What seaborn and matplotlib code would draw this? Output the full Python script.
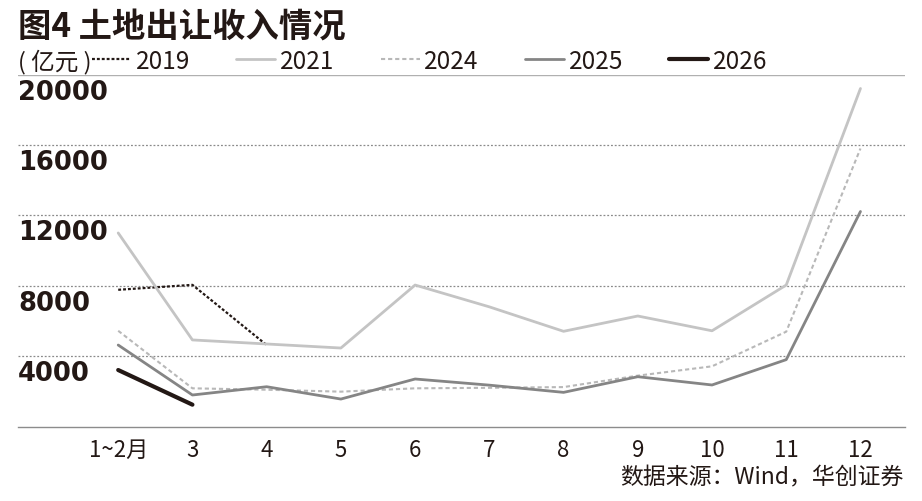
import pandas as pd
import seaborn as sns
import matplotlib.pyplot as plt
from matplotlib.lines import Line2D
from matplotlib.transforms import offset_copy

months = ['1~2月', '3', '4', '5', '6', '7', '8', '9', '10', '11', '12']
years = ['2019', '2021', '2024', '2025', '2026']
y2019 = [7770, 8050, 4630]
y2021 = [11000, 4920, 4690, 4460, 8040, 6800, 5410, 6280, 5440, 8040, 19210]
y2024 = [5440, 2170, 2090, 1980, 2170, 2200, 2240, 2890, 3420, 5390, 15800]
y2025 = [4630, 1790, 2260, 1560, 2700, 2350, 1940, 2830, 2360, 3800, 12220]
y2026 = [3210, 1240]
yticks = [4000, 8000, 12000, 16000, 20000]

rows = []
for yr, vals in zip(years, [y2019, y2021, y2024, y2025, y2026]):
    for i, v in enumerate(vals):
        rows.append({'year': yr, 'month': i, 'value': v})
df = pd.DataFrame(rows)

ink = '#231815'
palette = {'2019': ink, '2021': '#c4c4c4', '2024': '#b8b8b8', '2025': '#858585', '2026': ink}
sizes = {'2019': 1.6, '2021': 2.0, '2024': 1.5, '2025': 2.0, '2026': 3.0}
dashes = {'2019': (1.3, 0.9), '2021': '', '2024': (2.0, 1.4), '2025': '', '2026': ''}

sns.set_style('white')
plt.rcParams['font.family'] = ['Noto Sans CJK SC', 'DejaVu Sans']

fig = plt.figure(figsize=(9.22, 5.02), dpi=100)
ax = fig.add_axes([18 / 922, 1 - 427.5 / 502, 887 / 922, 351.9 / 502])

sns.lineplot(data=df, x='month', y='value', hue='year', size='year', style='year',
             palette=palette, sizes=sizes, dashes=dashes, legend=False, ax=ax, zorder=3)

ax.set_xlim(-1.35, 10.6)
ax.set_ylim(0, 20000)
for s in ['top', 'left', 'right']:
    ax.spines[s].set_visible(False)
ax.spines['bottom'].set_color('#8c8c8c')
ax.spines['bottom'].set_linewidth(1.0)

# grid: dotted, top line solid
for v in yticks[:-1]:
    ax.axhline(v, color='#8a8a8a', lw=0.9, ls=(0, (1.5, 1.5)), zorder=1)
ax.axhline(yticks[-1], color='#b0b0b0', lw=1.0, zorder=1)

ax.set_yticks([])
ax.set_ylabel('')
ax.set_xlabel('')
tr = offset_copy(ax.get_yaxis_transform(), fig=fig, y=-4, units='dots')
for v in yticks:
    ax.text(0, v, str(v), transform=tr, ha='left', va='top', fontsize=18.5,
            fontweight='bold', family='DejaVu Sans', color=ink)

ax.set_xticks(range(len(months)), months)
ax.tick_params(axis='x', length=0, pad=8, labelsize=16, colors=ink)

fig.text(18 / 922, 1 - 27 / 502, '图4 土地出让收入情况', fontsize=24, fontweight='bold',
         va='center', ha='left', color=ink)
fig.text(18 / 922, 1 - 62 / 502, '( 亿元 )', fontsize=17, va='center', ha='left', color=ink)

handles = [Line2D([], [], color=palette[y], lw=sizes[y],
                  ls='-' if dashes[y] == '' else (0, dashes[y])) for y in years]
ax.legend(handles, years, ncol=5, loc='center left', bbox_to_anchor=(92 / 922, 1 - 62 / 502),
          bbox_transform=fig.transFigure, frameon=False, fontsize=17.5, handlelength=1.6,
          handletextpad=0.2, columnspacing=1.9, borderpad=0, borderaxespad=0, labelcolor=ink)

fig.text(903 / 922, 1 - 478 / 502, '数据来源：Wind，华创证券', fontsize=16.5,
         va='center', ha='right', color=ink)

fig.savefig('out.png', dpi=100)
